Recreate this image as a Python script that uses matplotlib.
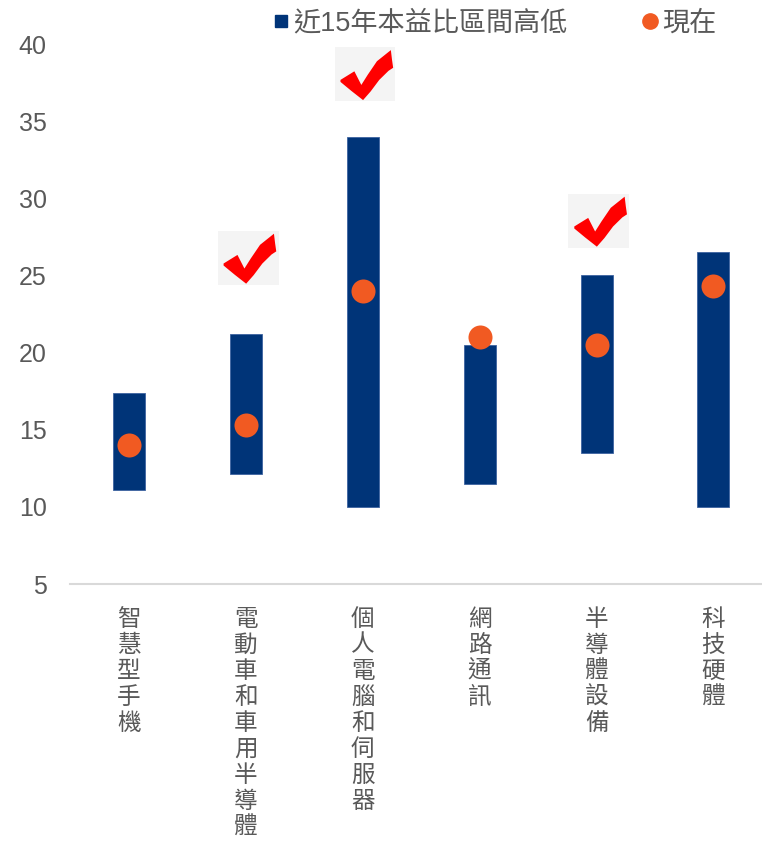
import numpy as np
import matplotlib.pyplot as plt
from matplotlib.lines import Line2D
from matplotlib.patches import Polygon

# 近15年本益比區間 (high / low) and the current P/E for each sector
sectors = ["智慧型手機", "電動車和車用半導體", "個人電腦和伺服器", "網路通訊", "半導體設備", "科技硬體"]
pe_high = [17.4, 21.2, 34.0, 20.5, 25.0, 26.5]
pe_low = [11.1, 12.1, 10.0, 11.5, 13.5, 10.0]
pe_now = [14.0, 15.3, 24.0, 21.0, 20.5, 24.3]

# sectors flagged with a check mark, and the lower edge of each badge
check_idx = [1, 2, 4]
check_bottom = [24.4, 36.3, 26.8]

navy = "#003478"
orange = "#F15A22"
grey_txt = "#595959"
fonts = ["Liberation Sans", "Noto Sans CJK TC"]
plt.rcParams["font.family"] = fonts

fig = plt.figure(figsize=(7.62, 8.43), dpi=100)
ax = fig.add_axes([0.0925, 0.3072, 0.9205, 0.6406])

x = np.arange(len(sectors))
high = np.array(pe_high)
low = np.array(pe_low)
ax.bar(x, high - low, bottom=low, width=0.274, color=navy,
       edgecolor="#3d63a0", linewidth=0.6, zorder=2)
ax.plot(x, pe_now, "o", color=orange, markersize=17.3, markeredgewidth=0, zorder=3)

ax.set_xlim(-0.5, len(sectors) - 0.5)
ax.set_ylim(5, 40)
ax.set_yticks(np.arange(5, 41, 5))
ax.tick_params(axis="y", length=0, pad=17, labelsize=18, labelcolor=grey_txt)
ax.tick_params(axis="x", length=0)
ax.set_xticks([])
for s in ["top", "right", "left"]:
    ax.spines[s].set_visible(False)
ax.spines["bottom"].set_color("#d9d9d9")
ax.spines["bottom"].set_linewidth(1.5)

# vertical category labels, one character per line
for i, name in enumerate(sectors):
    ax.annotate("\n".join(name), xy=(i, 5), xytext=(0, -17), textcoords="offset points",
                ha="center", va="top", fontsize=17, color=grey_txt,
                linespacing=1.17, family=["Noto Sans CJK TC", "DejaVu Sans"],
                annotation_clip=False)

# red tick badges
tick_shape = np.array([
    [0.05, 0.40], [0.29, 0.57], [0.41, 0.30], [0.52, 0.50], [0.68, 0.77],
    [0.92, 0.99], [0.94, 0.80], [0.96, 0.64], [0.88, 0.58], [0.72, 0.40],
    [0.57, 0.17], [0.44, 0.0], [0.24, 0.18], [0.05, 0.36],
])
for i, yb in zip(check_idx, check_bottom):
    badge = ax.inset_axes([i - 0.24, yb, 0.52, 3.5], transform=ax.transData)
    badge.set_facecolor("#f4f4f4")
    badge.add_patch(Polygon(tick_shape, closed=True, color="#ff0000", linewidth=0))
    badge.set_xlim(-0.05, 1.0)
    badge.set_ylim(-0.02, 1.05)
    badge.set_xticks([])
    badge.set_yticks([])
    for sp in badge.spines.values():
        sp.set_visible(False)
    badge.set_zorder(4)

handles = [
    Line2D([], [], marker="s", linestyle="none", color=navy, markersize=9),
    Line2D([], [], marker="o", linestyle="none", color=orange, markersize=11),
]
fig.legend(handles, ["近15年本益比區間高低", "現在"], loc="center left",
           bbox_to_anchor=(0.36, 0.972), ncol=2, frameon=False,
           fontsize=19.5, labelcolor=grey_txt, handlelength=0.5,
           handletextpad=0.2, columnspacing=2.8, borderpad=0, borderaxespad=0)

fig.savefig("out.png", dpi=100)
